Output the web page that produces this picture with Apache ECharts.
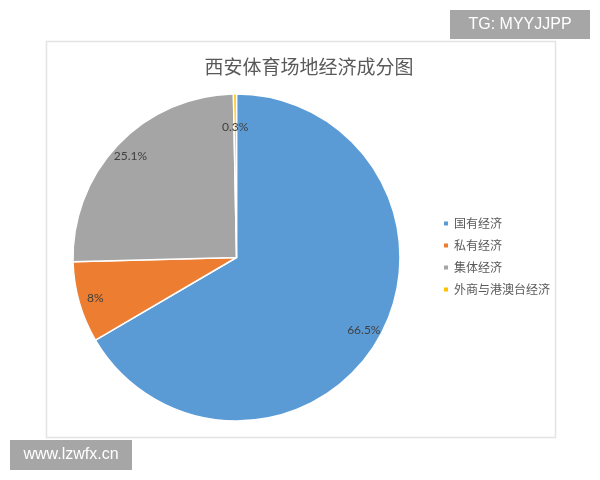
<!doctype html>
<html>
<head>
    <meta charset="utf-8">
    <title>西安体育场地经济成分图</title>
    <script src="https://cdn.jsdelivr.net/npm/echarts@6/dist/echarts.min.js"></script>
    <style>
        html, body { margin: 0; padding: 0; background: #fff; }
    </style>
</head>
<body>
    <div id="main" style="width: 600px;height:480px;"></div>
</body>
<script type="text/javascript">
    // 数据
    var categories = ['国有经济', '私有经济', '集体经济', '外商与港澳台经济'];
    var shares = [66.5, 8, 25.1, 0.3];
    var colors = ['#5B9BD5', '#ED7D31', '#A5A5A5', '#FFC000'];

    var pieData = [];
    for (var i = 0; i < categories.length; i++) {
        pieData.push({ name: categories[i], value: shares[i] });
    }

    var myChart = echarts.init(document.getElementById('main'));

    var option = {
        animation: false,
        color: colors,
        title: {
            text: '西安体育场地经济成分图',
            left: 304,
            textAlign: 'center',
            top: 52,
            textStyle: {
                fontFamily: 'Noto Sans CJK SC',
                fontWeight: 'normal',
                fontSize: 19,
                color: '#595959'
            }
        },
        legend: {
            data: categories,
            orient: 'vertical',
            left: 437,
            top: 212,
            icon: 'rect',
            itemWidth: 6,
            itemHeight: 6,
            itemGap: 9,
            textStyle: {
                fontFamily: 'Noto Sans CJK SC',
                fontSize: 12,
                lineHeight: 13,
                color: '#595959'
            }
        },
        graphic: [
            {
                type: 'rect',
                shape: { x: 46.5, y: 41.5, width: 509, height: 396 },
                style: { fill: 'none', stroke: '#e3e3e3', lineWidth: 1.5 },
                z: -1
            },
            {
                type: 'rect',
                shape: { x: 450, y: 10, width: 140, height: 29 },
                style: { fill: '#a6a6a6' }
            },
            {
                type: 'text',
                x: 520, y: 24.5,
                style: {
                    text: 'TG: MYYJJPP', fill: '#fff', fontSize: 16,
                    fontFamily: 'Liberation Sans', align: 'center', verticalAlign: 'middle'
                }
            },
            {
                type: 'rect',
                shape: { x: 10, y: 440, width: 122, height: 30 },
                style: { fill: '#a6a6a6' }
            },
            {
                type: 'text',
                x: 71, y: 455,
                style: {
                    text: 'www.lzwfx.cn', fill: '#fff', fontSize: 16,
                    fontFamily: 'Liberation Sans', align: 'center', verticalAlign: 'middle'
                }
            }
        ],
        series: [
            {
                name: '经济成分',
                type: 'pie',
                center: [236.5, 257.5],
                radius: [0, 163.5],
                startAngle: 90,
                clockwise: true,
                avoidLabelOverlap: false,
                silent: true,
                label: { show: false },
                labelLine: { show: false },
                itemStyle: { borderColor: '#fff', borderWidth: 1.5 },
                data: pieData
            },
            {
                // 透明外环，仅用于把百分比标签放在扇区外沿附近
                name: '标签',
                type: 'pie',
                center: [236.5, 257.5],
                radius: [124, 163.5],
                startAngle: 90,
                clockwise: true,
                avoidLabelOverlap: false,
                silent: true,
                itemStyle: { color: 'transparent', borderWidth: 0 },
                label: {
                    show: true,
                    position: 'inside',
                    formatter: '{c}%',
                    fontFamily: 'Lato',
                    fontSize: 12,
                    color: '#404040'
                },
                labelLine: { show: false },
                // 最小扇区的标签在原图中略靠内
                labelLayout: function (params) {
                    if (params.dataIndex === 3) {
                        return { dy: 16 };
                    }
                },
                data: pieData
            }
        ]
    };

    myChart.setOption(option);
</script>
</html>
